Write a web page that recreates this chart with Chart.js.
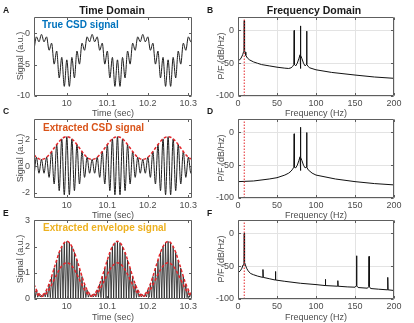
<!DOCTYPE html>
<html><head><meta charset="utf-8">
<script src="https://cdn.jsdelivr.net/npm/chart.js@4.4.1/dist/chart.umd.min.js"></script>
<style>
html,body{margin:0;padding:0;background:#fff;}
#wrap{position:relative;width:414px;height:323px;overflow:hidden;background:#fff;font-family:"Liberation Sans",Arial,Helvetica,sans-serif;}
canvas{position:absolute;}
.t{position:absolute;white-space:nowrap;line-height:1;}
.c{transform:translate(-50%,-50%);}
.l{transform:translate(0,-50%);}
.r{transform:translate(-50%,-50%) rotate(-90deg);}
.ttl{font-weight:bold;font-size:10.5px;color:#1a1a1a;}
.let{font-weight:bold;font-size:8.5px;color:#1a1a1a;}
.ax{font-size:9px;color:#4d4d4d;}
.lab{font-weight:bold;font-size:10px;}
</style></head><body><div id="wrap">
<canvas id="cA" width="204" height="112" style="left:0;top:8px"></canvas>
<canvas id="cB" width="210" height="112" style="left:204px;top:8px"></canvas>
<canvas id="cC" width="204" height="112" style="left:0;top:110px"></canvas>
<canvas id="cD" width="210" height="112" style="left:204px;top:110px"></canvas>
<canvas id="cE" width="204" height="112" style="left:0;top:211px"></canvas>
<canvas id="cF" width="210" height="112" style="left:204px;top:211px"></canvas>

<div class="t ttl c" style="left:112px;top:10px">Time Domain</div>
<div class="t ttl c" style="left:314px;top:10px">Frequency Domain</div>
<div class="t let l" style="left:3px;top:10px">A</div>
<div class="t let l" style="left:207px;top:10px">B</div>
<div class="t let l" style="left:3px;top:111px">C</div>
<div class="t let l" style="left:207px;top:111px">D</div>
<div class="t let l" style="left:3px;top:213px">E</div>
<div class="t let l" style="left:207px;top:213px">F</div>

<div class="t ax c" style="left:113px;top:113px">Time (sec)</div>
<div class="t ax c" style="left:113px;top:215px">Time (sec)</div>
<div class="t ax c" style="left:113px;top:317px">Time (sec)</div>
<div class="t ax c" style="left:316px;top:113px">Frequency (Hz)</div>
<div class="t ax c" style="left:316px;top:215px">Frequency (Hz)</div>
<div class="t ax c" style="left:316px;top:317px">Frequency (Hz)</div>

<div class="t ax r" style="left:20px;top:56px">Signal (a.u.)</div>
<div class="t ax r" style="left:20px;top:158px">Signal (a.u.)</div>
<div class="t ax r" style="left:20px;top:259px">Signal (a.u.)</div>
<div class="t ax r" style="left:221px;top:56px">P/F (dB/Hz)</div>
<div class="t ax r" style="left:221px;top:158px">P/F (dB/Hz)</div>
<div class="t ax r" style="left:221px;top:259px">P/F (dB/Hz)</div>

<div class="t lab l" style="left:42px;top:25px;color:#0072BD">True CSD signal</div>
<div class="t lab l" style="left:43px;top:128px;color:#D95319">Extracted CSD signal</div>
<div class="t lab l" style="left:43px;top:228px;color:#EDB120">Extracted envelope signal</div>
</div>
<script>
// ---------- data ----------
const time = [9.91875, 9.925, 9.93125, 9.9375, 9.94375, 9.95, 9.95625, 9.9625, 9.96875, 9.975, 9.98125, 9.9875, 9.99375,
 10, 10.00625, 10.0125, 10.01875, 10.025, 10.03125, 10.0375, 10.04375, 10.05, 10.05625, 10.0625, 10.06875, 10.075, 10.08125, 10.0875, 10.09375,
 10.1, 10.10625, 10.1125, 10.11875, 10.125, 10.13125, 10.1375, 10.14375, 10.15, 10.15625, 10.1625, 10.16875, 10.175, 10.18125, 10.1875, 10.19375,
 10.2, 10.20625, 10.2125, 10.21875, 10.225, 10.23125, 10.2375, 10.24375, 10.25, 10.25625, 10.2625, 10.26875, 10.275, 10.28125, 10.2875, 10.29375,
 10.3, 10.30625, 10.3125];

const csdTrue = [-2.73, -0.59, -1.38, -0.20, -1.38, -0.59, -2.73, -1.60, -4.93, -2.85, -7.12, -3.86, -8.47,
 -4.25, -8.47, -3.86, -7.12, -2.85, -4.93, -1.60, -2.73, -0.59, -1.38, -0.20, -1.38, -0.59, -2.73, -1.60, -4.93, -2.85, -7.12, -3.86, -8.47,
 -4.25, -8.47, -3.86, -7.12, -2.85, -4.93, -1.60, -2.73, -0.59, -1.38, -0.20, -1.38, -0.59, -2.73, -1.60, -4.93, -2.85, -7.12, -3.86, -8.47,
 -4.25, -8.47, -3.86, -7.12, -2.85, -4.93, -1.60, -2.73, -0.59, -1.38, -0.20];

const csdExtracted = [-0.85, 0.66, -0.54, 0.50, -0.54, 0.66, -0.85, 1.09, -1.35, 1.61, -1.85, 2.04, -2.16,
 2.20, -2.16, 2.04, -1.85, 1.61, -1.35, 1.09, -0.85, 0.66, -0.54, 0.50, -0.54, 0.66, -0.85, 1.09, -1.35, 1.61, -1.85, 2.04, -2.16,
 2.20, -2.16, 2.04, -1.85, 1.61, -1.35, 1.09, -0.85, 0.66, -0.54, 0.50, -0.54, 0.66, -0.85, 1.09, -1.35, 1.61, -1.85, 2.04, -2.16,
 2.20, -2.16, 2.04, -1.85, 1.61, -1.35, 1.09, -0.85, 0.66, -0.54, 0.50];

const csdEnvelope = [0.85, 0.66, 0.54, 0.50, 0.54, 0.66, 0.85, 1.09, 1.35, 1.61, 1.85, 2.04, 2.16,
 2.20, 2.16, 2.04, 1.85, 1.61, 1.35, 1.09, 0.85, 0.66, 0.54, 0.50, 0.54, 0.66, 0.85, 1.09, 1.35, 1.61, 1.85, 2.04, 2.16,
 2.20, 2.16, 2.04, 1.85, 1.61, 1.35, 1.09, 0.85, 0.66, 0.54, 0.50, 0.54, 0.66, 0.85, 1.09, 1.35, 1.61, 1.85, 2.04, 2.16,
 2.20, 2.16, 2.04, 1.85, 1.61, 1.35, 1.09, 0.85, 0.66, 0.54, 0.50];

const timeEnv = [9.91875, 9.921875, 9.925, 9.928125, 9.93125, 9.934375, 9.9375, 9.940625, 9.94375, 9.946875,
 9.95, 9.953125, 9.95625, 9.959375, 9.9625, 9.965625, 9.96875, 9.971875, 9.975, 9.978125,
 9.98125, 9.984375, 9.9875, 9.990625, 9.99375, 9.996875, 10, 10.003125, 10.00625, 10.009375,
 10.0125, 10.015625, 10.01875, 10.021875, 10.025, 10.028125, 10.03125, 10.034375, 10.0375, 10.040625,
 10.04375, 10.046875, 10.05, 10.053125, 10.05625, 10.059375, 10.0625, 10.065625, 10.06875, 10.071875,
 10.075, 10.078125, 10.08125, 10.084375, 10.0875, 10.090625, 10.09375, 10.096875, 10.1, 10.103125,
 10.10625, 10.109375, 10.1125, 10.115625, 10.11875, 10.121875, 10.125, 10.128125, 10.13125, 10.134375,
 10.1375, 10.140625, 10.14375, 10.146875, 10.15, 10.153125, 10.15625, 10.159375, 10.1625, 10.165625,
 10.16875, 10.171875, 10.175, 10.178125, 10.18125, 10.184375, 10.1875, 10.190625, 10.19375, 10.196875,
 10.2, 10.203125, 10.20625, 10.209375, 10.2125, 10.215625, 10.21875, 10.221875, 10.225, 10.228125,
 10.23125, 10.234375, 10.2375, 10.240625, 10.24375, 10.246875, 10.25, 10.253125, 10.25625, 10.259375,
 10.2625, 10.265625, 10.26875, 10.271875, 10.275, 10.278125, 10.28125, 10.284375, 10.2875, 10.290625,
 10.29375, 10.296875, 10.3, 10.303125, 10.30625, 10.309375, 10.3125];

const envSignal = [0.57, 0.05, 0.35, 0.07, 0.20, 0.08, 0.15, 0.08, 0.20, 0.08,
 0.35, 0.07, 0.57, 0.05, 0.86, 0.04, 1.18, 0.03, 1.49, 0.03,
 1.78, 0.02, 2.00, 0.02, 2.15, 0.02, 2.20, 0.02, 2.15, 0.02,
 2.00, 0.02, 1.78, 0.02, 1.49, 0.03, 1.18, 0.03, 0.86, 0.04,
 0.57, 0.05, 0.35, 0.07, 0.20, 0.08, 0.15, 0.08, 0.20, 0.08,
 0.35, 0.07, 0.57, 0.05, 0.86, 0.04, 1.18, 0.03, 1.49, 0.03,
 1.78, 0.02, 2.00, 0.02, 2.15, 0.02, 2.20, 0.02, 2.15, 0.02,
 2.00, 0.02, 1.78, 0.02, 1.49, 0.03, 1.18, 0.03, 0.86, 0.04,
 0.57, 0.05, 0.35, 0.07, 0.20, 0.08, 0.15, 0.08, 0.20, 0.08,
 0.35, 0.07, 0.57, 0.05, 0.86, 0.04, 1.18, 0.03, 1.49, 0.03,
 1.78, 0.02, 2.00, 0.02, 2.15, 0.02, 2.20, 0.02, 2.15, 0.02,
 2.00, 0.02, 1.78, 0.02, 1.49, 0.03, 1.18, 0.03, 0.86, 0.04,
 0.57, 0.05, 0.35, 0.07, 0.20, 0.08, 0.15];

const envUpper = [0.57, 0.35, 0.20, 0.15, 0.20, 0.35, 0.57, 0.86, 1.18, 1.49, 1.78, 2.00, 2.15,
 2.20, 2.15, 2.00, 1.78, 1.49, 1.18, 0.86, 0.57, 0.35, 0.20, 0.15, 0.20, 0.35, 0.57, 0.86, 1.18, 1.49, 1.78, 2.00, 2.15,
 2.20, 2.15, 2.00, 1.78, 1.49, 1.18, 0.86, 0.57, 0.35, 0.20, 0.15, 0.20, 0.35, 0.57, 0.86, 1.18, 1.49, 1.78, 2.00, 2.15,
 2.20, 2.15, 2.00, 1.78, 1.49, 1.18, 0.86, 0.57, 0.35, 0.20, 0.15];

const envMean = [0.36, 0.22, 0.13, 0.10, 0.13, 0.22, 0.36, 0.54, 0.74, 0.94, 1.12, 1.26, 1.35,
 1.38, 1.35, 1.26, 1.12, 0.94, 0.74, 0.54, 0.36, 0.22, 0.13, 0.10, 0.13, 0.22, 0.36, 0.54, 0.74, 0.94, 1.12, 1.26, 1.35,
 1.38, 1.35, 1.26, 1.12, 0.94, 0.74, 0.54, 0.36, 0.22, 0.13, 0.10, 0.13, 0.22, 0.36, 0.54, 0.74, 0.94, 1.12, 1.26, 1.35,
 1.38, 1.35, 1.26, 1.12, 0.94, 0.74, 0.54, 0.36, 0.22, 0.13, 0.10];

const freqB = [0, 2, 4, 6, 7, 7.6, 8, 8.4, 9, 10, 12, 15, 20, 25, 30, 40, 50, 60, 65, 68, 70, 71.6, 72, 72.4, 74, 76, 78, 79.6, 80, 80.15, 80.35, 80.55, 82, 84, 86, 87.6, 88, 88.4, 90, 92, 100, 120, 150, 175, 200];
const powB  = [-46, -45, -42, -37, -33, -30, 15, -30, -33, -38, -42, -45, -48, -50, -52, -54, -56, -57.5, -58, -57, -55, -52, 0, -52, -54, -50, -43, -37, 7, -37, -58, -38, -43, -50, -54, -52, -1, -52, -55, -57, -60, -64, -68, -71, -73];

const freqD = [0, 20, 40, 50, 60, 65, 68, 70, 71.6, 72, 72.4, 74, 76, 78, 79.6, 80, 80.15, 80.35, 80.55, 82, 84, 86, 87.6, 88, 88.4, 90, 95, 100, 125, 150, 175, 200];
const powD  = [-75, -74, -71, -69, -65, -62, -59, -56, -53, -2, -53, -54, -50, -43, -37, 8, -37, -58, -38, -43, -50, -54, -53, 0, -53, -57, -62, -65, -71, -75, -78, -80];

const freqF = [0, 3, 5, 6.5, 7.6, 8, 8.4, 9.5, 11, 13, 16, 20, 25, 31.6, 32, 32.4, 40, 47.6, 48, 48.4, 60, 80, 100, 111.6, 112, 112.4, 127.6, 128, 128.4, 140, 150, 151.6, 152, 152.4, 154, 166, 167.6, 168, 168.4, 170, 180, 191.6, 192, 192.4, 200];
const powF  = [-60, -57, -53, -48, -44, 0, -44, -48, -53, -57, -61, -63, -65, -67, -55, -67, -69, -71, -58, -71, -73, -76, -78, -79.5, -70, -79.5, -80.5, -72, -80.5, -81.5, -82, -80, -34, -80, -82.5, -83.5, -81, -35, -81, -84, -85, -86, -67, -86, -87];

const markerFreq = 8;
const timeTicks = [10, 10.1, 10.2, 10.3];
const freqTicks = [0, 50, 100, 150, 200];
const ticksA = [-10, -5, 0];
const ticksC = [-2, 0, 2];
const ticksE = [0, 1, 2, 3];
const ticksSpec = [-100, -50, 0];

// ---------- drawing ----------
Chart.defaults.font.family = '"Liberation Sans", Arial, Helvetica, sans-serif';
Chart.defaults.font.size = 9;
Chart.defaults.color = '#4d4d4d';

const boxTicks = {
  id: 'boxTicks',
  afterDraw(chart) {
    const {ctx, chartArea: a, scales} = chart;
    const x = scales.x, y = scales.y;
    ctx.save();
    ctx.strokeStyle = '#5e5e5e'; ctx.lineWidth = 1;
    const L = Math.round(a.left) + 0.5, R = Math.round(a.right) - 0.5, T = Math.round(a.top) + 0.5, B = Math.round(a.bottom) - 0.5;
    ctx.beginPath();
    ctx.rect(L, T, R - L, B - T);
    const tl = 2.5;
    x.ticks.forEach(t => { const p = Math.round(x.getPixelForValue(t.value)) + 0.5; ctx.moveTo(p, B); ctx.lineTo(p, B - tl); ctx.moveTo(p, T); ctx.lineTo(p, T + tl); });
    y.ticks.forEach(t => { const p = Math.round(y.getPixelForValue(t.value)) + 0.5; ctx.moveTo(L, p); ctx.lineTo(L + tl, p); ctx.moveTo(R, p); ctx.lineTo(R - tl, p); });
    ctx.stroke();
    ctx.restore();
  }
};

function pts(xs, ys) { return xs.map((v, i) => ({x: v, y: ys[i]})); }
function line(data, color, width, dash, order, smooth) {
  const ds = {data, borderColor: color, borderWidth: width, borderDash: dash || [], showLine: true, pointRadius: 0, fill: false, order, tension: 0};
  if (smooth) ds.cubicInterpolationMode = 'monotone';
  return ds;
}

function panel(id, cfg) {
  return new Chart(document.getElementById(id), {
    type: 'scatter',
    data: {datasets: cfg.datasets},
    options: {
      responsive: false, animation: false, devicePixelRatio: 1,
      layout: {padding: {top: 8, right: cfg.padR, left: 0, bottom: 0}},
      plugins: {legend: {display: false}, tooltip: {enabled: false}},
      scales: {
        x: {type: 'linear', min: cfg.xmin, max: cfg.xmax,
          afterBuildTicks: s => { s.ticks = cfg.xticks.map(v => ({value: v})); },
          afterFit: s => { s.height = 24; },
          ticks: {autoSkip: false, maxRotation: 0, minRotation: 0, padding: 2, callback: v => String(v)},
          grid: {display: cfg.grid, color: '#e3e3e3', drawTicks: false, lineWidth: 1},
          border: {display: false}},
        y: {type: 'linear', min: cfg.ymin, max: cfg.ymax,
          afterBuildTicks: s => { s.ticks = cfg.yticks.map(v => ({value: v})); },
          afterFit: s => { s.width = 34; },
          ticks: {autoSkip: false, padding: 4, callback: v => String(v)},
          grid: {display: cfg.grid, color: '#e3e3e3', drawTicks: false, lineWidth: 1},
          border: {display: false}}
      }
    },
    plugins: [boxTicks]
  });
}

const RED = '#e3262b';
const marker = [{x: markerFreq, y: -100}, {x: markerFreq, y: 20}];

panel('cA', {padR: 12, xmin: 9.919, xmax: 10.309, xticks: timeTicks, ymin: -10, ymax: 2.5, yticks: ticksA, grid: false,
  datasets: [line(pts(time, csdTrue), '#1e1e1e', 1, null, 1, true)]});
panel('cC', {padR: 12, xmin: 9.919, xmax: 10.309, xticks: timeTicks, ymin: -2.4, ymax: 3.5, yticks: ticksC, grid: false,
  datasets: [line(pts(time, csdEnvelope), RED, 1.5, [3, 2], 0, true), line(pts(time, csdExtracted), '#1e1e1e', 1, null, 1, true)]});
panel('cE', {padR: 12, xmin: 9.919, xmax: 10.309, xticks: timeTicks, ymin: 0, ymax: 3, yticks: ticksE, grid: false,
  datasets: [line(pts(time, envUpper), RED, 1.5, [3, 2], 0, true), line(pts(time, envMean), RED, 1.5, [3, 2], 0, true),
             line(pts(timeEnv, envSignal), '#1e1e1e', 0.8, null, 1, false)]});

const specCfg = {padR: 20, xmin: 0, xmax: 200, xticks: freqTicks, ymin: -100, ymax: 20, yticks: ticksSpec, grid: true};
panel('cB', Object.assign({}, specCfg, {datasets: [line(marker, RED, 1, [1.5, 1.5], 0), line(pts(freqB, powB), '#111', 1, null, 1)]}));
panel('cD', Object.assign({}, specCfg, {datasets: [line(marker, RED, 1, [1.5, 1.5], 0), line(pts(freqD, powD), '#111', 1, null, 1)]}));
panel('cF', Object.assign({}, specCfg, {datasets: [line(marker, RED, 1, [1.5, 1.5], 0), line(pts(freqF, powF), '#111', 1, null, 1)]}));
</script>
</body></html>
